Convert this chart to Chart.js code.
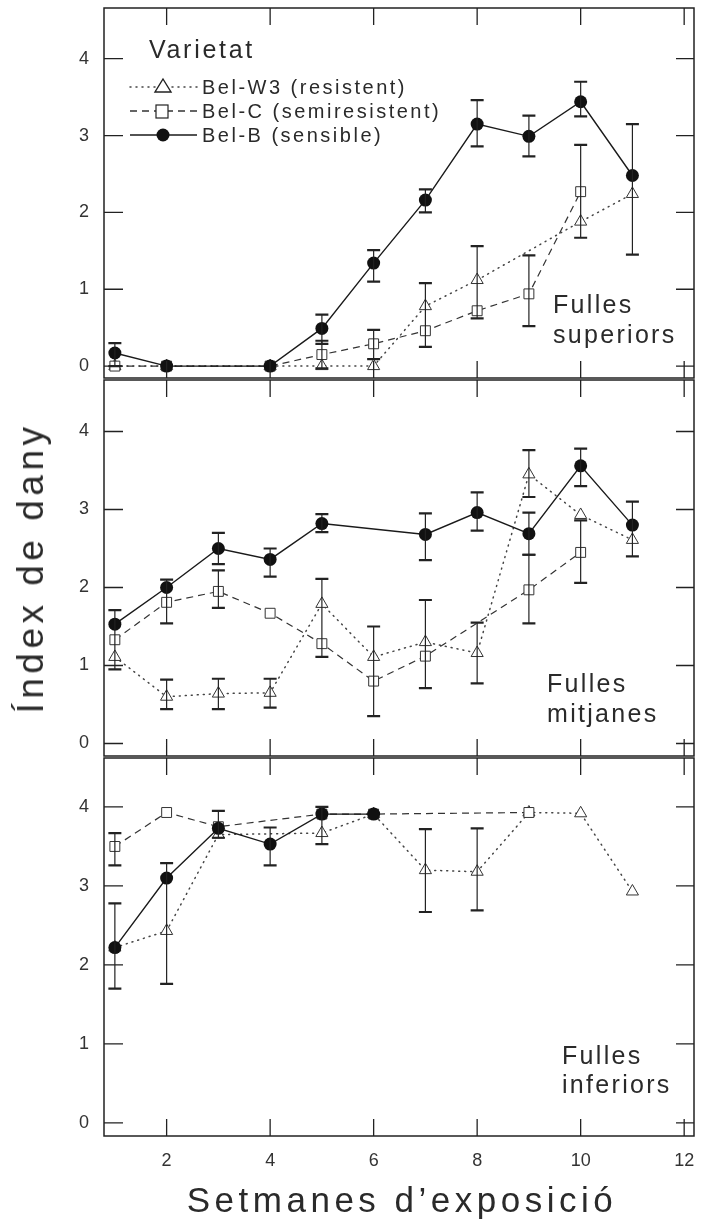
<!DOCTYPE html>
<html>
<head>
<meta charset="utf-8">
<script src="https://cdn.jsdelivr.net/npm/chart.js@4"></script>
<style>
  body { margin: 0; background: #fff; }
  #page { position: relative; width: 707px; height: 1224px; overflow: hidden; font-family: 'Liberation Sans', Arial, Helvetica, sans-serif; color: #2a2a2a; }
  canvas { position: absolute; left: 0; }
  .txt { position: absolute; white-space: nowrap; }
  .panel { font-size: 25px; line-height: 30px; letter-spacing: 2.3px; }
  .leg { font-size: 20px; line-height: 24px; letter-spacing: 2.5px; }
</style>
</head>
<body>
<div id="page">
  <canvas id="c1" width="707" height="386" style="top:0px"></canvas>
  <canvas id="c2" width="707" height="392" style="top:372px"></canvas>
  <canvas id="c3" width="707" height="440" style="top:750px"></canvas>

  <div class="txt" style="left:149px;top:34px;font-size:25px;line-height:30px;letter-spacing:2.7px">Varietat</div>
  <svg class="txt" style="left:125px;top:75px" width="80" height="72">
    <line x1="5" y1="12" x2="72" y2="12" stroke="#444" stroke-width="1.5" stroke-dasharray="1 5" stroke-linecap="round"/>
    <polygon points="38,4 46,17 30,17" fill="#fff" stroke="#222" stroke-width="1.4"/>
    <line x1="5" y1="36" x2="72" y2="36" stroke="#333" stroke-width="1.3" stroke-dasharray="7 5"/>
    <rect x="31" y="30" width="12" height="13" fill="#fff" stroke="#222" stroke-width="1.2"/>
    <line x1="5" y1="60" x2="72" y2="60" stroke="#1a1a1a" stroke-width="1.4"/>
    <circle cx="38" cy="60" r="6.5" fill="#111"/>
  </svg>
  <div class="txt leg" style="left:202px;top:75px">Bel-W3 (resistent)<br>Bel-C (semiresistent)<br>Bel-B (sensible)</div>

  <div class="txt panel" style="left:553px;top:289px">Fulles<br>superiors</div>
  <div class="txt panel" style="left:547px;top:668px">Fulles<br>mitjanes</div>
  <div class="txt panel" style="left:562px;top:1041px;line-height:29px">Fulles<br>inferiors</div>

  <div class="txt" style="left:31px;top:568px;font-size:37px;line-height:42px;letter-spacing:4.5px;transform:translate(-50%,-50%) rotate(-90deg)">Índex de dany</div>
  <div class="txt" style="left:402px;top:1180px;font-size:35px;line-height:40px;letter-spacing:4.5px;transform:translateX(-50%)">Setmanes d’exposició</div>
</div>

<script>
const weeks = [1, 2, 3, 4, 5, 6, 7, 8, 9, 10, 11];
const xTicks = [2, 4, 6, 8, 10, 12];
const yTicks = [0, 1, 2, 3, 4];

// Fulles superiors
const supW3 = [0, 0, null, 0, 0, 0, 0.78, 1.12, null, 1.88, 2.24];
const supC = [0, 0, null, 0, 0.15, 0.29, 0.46, 0.72, 0.94, 2.27, null];
const supB = [0.17, 0, null, 0, 0.49, 1.34, 2.16, 3.15, 2.99, 3.44, 2.48];
const supW3Err = [null, null, null, null, null, null, [0.25, 1.08], [0.62, 1.56], null, null, null];
const supCErr = [null, null, null, null, [-0.03, 0.33], [0.09, 0.47], null, null, [0.52, 1.44], [1.67, 2.88], null];
const supBErr = [[0, 0.30], null, null, null, [0.29, 0.67], [1.10, 1.51], [2.00, 2.30], [2.86, 3.46], [2.73, 3.26], [3.25, 3.70], [1.45, 3.15]];

// Fulles mitjanes
const midW3 = [1.11, 0.60, 0.64, 0.65, 1.79, 1.11, 1.30, 1.16, 3.45, 2.93, 2.61];
const midC = [1.33, 1.81, 1.95, 1.67, 1.28, 0.80, 1.12, null, 1.97, 2.45, null];
const midB = [1.53, 2.00, 2.50, 2.36, 2.82, null, 2.68, 2.96, 2.69, 3.56, 2.80];
const midW3Err = [null, [0.44, 0.82], [0.44, 0.83], [0.46, 0.83], [1.11, 2.11], null, [0.71, 1.84], [0.77, 1.55], [3.16, 3.76], null, null];
const midCErr = [[0.95, 1.71], [1.54, 2.10], [1.74, 2.22], null, null, [0.35, 1.50], null, null, [1.54, 2.42], [2.06, 2.86], null];
const midBErr = [null, null, [2.30, 2.70], [2.14, 2.50], [2.71, 2.94], null, [2.35, 2.95], [2.73, 3.22], [2.42, 2.96], [3.30, 3.78], [2.40, 3.10]];

// Fulles inferiors
const infW3 = [2.22, 2.43, 3.65, null, 3.67, 3.91, 3.20, 3.18, 3.93, 3.92, 2.93];
const infC = [3.50, 3.93, 3.75, null, 3.91, 3.91, null, null, 3.93, null, null];
const infB = [2.22, 3.10, 3.73, 3.53, 3.91, 3.91, null, null, null, null, null];
const infW3Err = [null, [1.76, 3.29], null, null, null, null, [2.67, 3.72], [2.69, 3.73], null, null, null];
const infCErr = [[3.26, 3.67], null, null, null, null, null, null, null, null, null, null];
const infBErr = [[1.70, 2.78], null, [3.61, 3.95], [3.26, 3.74], [3.53, 4.00], null, null, null, null, null, null];

const FONT = "'Liberation Sans', Arial, Helvetica, sans-serif";
const INK = '#222';

function pts(vals) {
    return weeks.map((w, i) => ({x: w, y: vals[i]}));
}

// frame, inward ticks and error bars
const framePlugin = {
    id: 'frame',
    afterDatasetsDraw(chart) {
        const ctx = chart.ctx;
        const y = chart.scales.y;
        ctx.save();
        ctx.strokeStyle = INK;
        chart.data.datasets.forEach(ds => {
            ds.err.forEach((e, i) => {
                if (!e) return;
                const px = chart.scales.x.getPixelForValue(weeks[i]);
                const lo = y.getPixelForValue(e[0]);
                const hi = y.getPixelForValue(e[1]);
                ctx.lineWidth = 1.2;
                ctx.beginPath();
                ctx.moveTo(px, lo);
                ctx.lineTo(px, hi);
                ctx.stroke();
                ctx.lineWidth = 2.2;
                ctx.beginPath();
                ctx.moveTo(px - 6.5, lo); ctx.lineTo(px + 6.5, lo);
                ctx.moveTo(px - 6.5, hi); ctx.lineTo(px + 6.5, hi);
                ctx.stroke();
            });
        });
        ctx.restore();
    },
    afterDraw(chart) {
        const {ctx, chartArea: a} = chart;
        const x = chart.scales.x, y = chart.scales.y;
        ctx.save();
        ctx.strokeStyle = INK;
        ctx.lineWidth = 1.5;
        ctx.strokeRect(a.left, a.top, a.right - a.left, a.bottom - a.top);
        ctx.lineWidth = 1.3;
        ctx.beginPath();
        xTicks.forEach(v => {
            const px = x.getPixelForValue(v);
            ctx.moveTo(px, a.top); ctx.lineTo(px, a.top + 17);
            ctx.moveTo(px, a.bottom); ctx.lineTo(px, a.bottom - 17);
        });
        yTicks.forEach(v => {
            const py = y.getPixelForValue(v);
            ctx.moveTo(a.left, py); ctx.lineTo(a.left + 19, py);
            ctx.moveTo(a.right, py); ctx.lineTo(a.right - 18, py);
        });
        ctx.stroke();
        ctx.restore();
    }
};

function panel(id, b, c, w3, bErr, cErr, w3Err, yMin, yMax, showX, padBottom) {
    const datasets = [
        {label: 'Bel-B (sensible)', data: pts(b), err: bErr,
         borderColor: '#1a1a1a', borderWidth: 1.4, pointStyle: 'circle', pointRadius: 6.5,
         pointBackgroundColor: '#111', pointBorderColor: '#111', pointBorderWidth: 0},
        {label: 'Bel-C (semiresistent)', data: pts(c), err: cErr,
         borderColor: '#333', borderWidth: 1.2, borderDash: [7, 5], pointStyle: 'rect', pointRadius: 7,
         pointBackgroundColor: '#fff', pointBorderColor: '#333', pointBorderWidth: 1},
        {label: 'Bel-W3 (resistent)', data: pts(w3), err: w3Err,
         borderColor: '#444', borderWidth: 1.5, borderDash: [1, 5], borderCapStyle: 'round',
         pointStyle: 'triangle', pointRadius: 7,
         pointBackgroundColor: '#fff', pointBorderColor: '#333', pointBorderWidth: 1}
    ];
    datasets.forEach(d => { d.spanGaps = true; d.tension = 0; d.fill = false; });

    return new Chart(document.getElementById(id), {
        type: 'line',
        data: {datasets: datasets},
        options: {
            responsive: false,
            animation: false,
            layout: {padding: {left: 0, right: 13, top: 6, bottom: padBottom}},
            plugins: {legend: {display: false}, tooltip: {enabled: false}},
            scales: {
                x: {
                    type: 'linear', min: 0.79, max: 12.19, display: showX,
                    afterBuildTicks: s => { s.ticks = xTicks.map(v => ({value: v})); },
                    afterFit: s => { s.height = showX ? 40 : 0; s.paddingLeft = 0; s.paddingRight = 0; },
                    grid: {display: false, drawTicks: false},
                    border: {display: false},
                    ticks: {padding: 14, color: '#333', font: {family: FONT, size: 18}, maxRotation: 0}
                },
                y: {
                    type: 'linear', min: yMin, max: yMax,
                    afterBuildTicks: s => { s.ticks = yTicks.map(v => ({value: v})); },
                    afterFit: s => { s.width = 104; s.paddingTop = 0; s.paddingBottom = 0; },
                    grid: {display: false, drawTicks: false},
                    border: {display: false},
                    ticks: {padding: 15, color: '#333', font: {family: FONT, size: 18}}
                }
            }
        },
        plugins: [framePlugin]
    });
}

panel('c1', supB, supC, supW3, supBErr, supCErr, supW3Err, -0.155, 4.66, false, 8);
panel('c2', midB, midC, midW3, midBErr, midCErr, midW3Err, -0.16, 4.66, false, 8);
panel('c3', infB, infC, infW3, infBErr, infCErr, infW3Err, -0.166, 4.62, true, 14);
</script>
</body>
</html>
